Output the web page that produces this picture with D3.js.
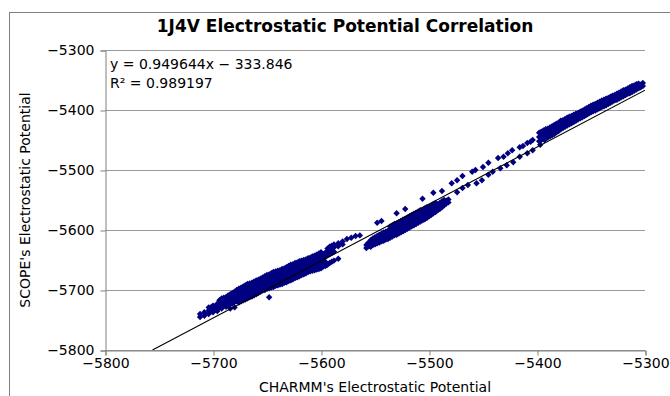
<!DOCTYPE html>
<html>
<head>
<meta charset="utf-8">
<script src="https://cdn.jsdelivr.net/npm/d3@7"></script>
<style>
  body { margin: 0; background: #fff; }
  svg { display: block; font-family: "DejaVu Sans", sans-serif; }
</style>
</head>
<body>
<div id="chart"></div>
<script>
// axis ticks
const xTicks = [-5800, -5700, -5600, -5500, -5400, -5300];
const yTicks = [-5800, -5700, -5600, -5500, -5400, -5300];

// linear fit shown in the chart
const fitSlope = 0.949644;
const fitIntercept = -333.846;
const fitLabel = "y = 0.949644x \u2212 333.846";
const r2Label = "R\u00b2 = 0.989197";

// lower-left dense cluster [CHARMM, SCOPE]
const clusterA = [
  [-5712,-5745],[-5712,-5740],[-5708,-5743],[-5708,-5737],
  [-5704,-5740],[-5704,-5734],[-5704,-5729],
  [-5700,-5737],[-5700,-5731],[-5700,-5726],
  [-5696,-5735],[-5696,-5729],[-5696,-5723],
  [-5692,-5731],[-5692,-5725],[-5692,-5719],[-5692,-5714],
  [-5688,-5728],[-5688,-5722],[-5688,-5716],[-5688,-5712],
  [-5684,-5731],[-5684,-5724],[-5684,-5718],[-5684,-5712],[-5684,-5707],
  [-5680,-5729],[-5680,-5720],[-5680,-5714],[-5680,-5708],[-5680,-5703],
  [-5676,-5721],[-5676,-5715],[-5676,-5709],[-5676,-5703],[-5676,-5698],
  [-5672,-5717],[-5672,-5711],[-5672,-5705],[-5672,-5699],[-5672,-5694],
  [-5668,-5714],[-5668,-5708],[-5668,-5702],[-5668,-5696],[-5668,-5690],
  [-5664,-5711],[-5664,-5705],[-5664,-5699],[-5664,-5693],[-5664,-5688],
  [-5660,-5707],[-5660,-5701],[-5660,-5695],[-5660,-5689],[-5660,-5684],
  [-5656,-5703],[-5656,-5698],[-5656,-5692],[-5656,-5686],[-5656,-5681],
  [-5652,-5700],[-5652,-5695],[-5652,-5689],[-5652,-5683],[-5652,-5677],
  [-5648,-5712],[-5648,-5697],[-5648,-5691],[-5648,-5685],[-5648,-5679],[-5648,-5674],
  [-5644,-5695],[-5644,-5688],[-5644,-5682],[-5644,-5676],[-5644,-5670],
  [-5640,-5692],[-5640,-5686],[-5640,-5680],[-5640,-5674],[-5640,-5668],
  [-5636,-5690],[-5636,-5684],[-5636,-5678],[-5636,-5672],[-5636,-5665],
  [-5632,-5687],[-5632,-5681],[-5632,-5675],[-5632,-5669],[-5632,-5662],
  [-5628,-5684],[-5628,-5678],[-5628,-5671],[-5628,-5664],[-5628,-5658],
  [-5624,-5680],[-5624,-5674],[-5624,-5667],[-5624,-5661],[-5624,-5655],
  [-5620,-5677],[-5620,-5671],[-5620,-5664],[-5620,-5658],[-5620,-5652],
  [-5616,-5674],[-5616,-5667],[-5616,-5661],[-5616,-5655],[-5616,-5650],
  [-5612,-5670],[-5612,-5664],[-5612,-5658],[-5612,-5652],[-5612,-5647],
  [-5608,-5668],[-5608,-5662],[-5608,-5655],[-5608,-5649],[-5608,-5644],
  [-5604,-5666],[-5604,-5659],[-5604,-5652],[-5604,-5646],[-5604,-5641],
  [-5600,-5664],[-5600,-5656],[-5600,-5648],[-5600,-5642],[-5600,-5637],
  [-5596,-5660],[-5596,-5653],[-5596,-5644],[-5596,-5638],
  [-5592,-5655],[-5592,-5640],[-5592,-5633],[-5592,-5628],
  [-5588,-5651],[-5588,-5636],[-5588,-5629],[-5588,-5624],
  [-5584,-5648],[-5584,-5627],[-5584,-5622],
  [-5580,-5624],[-5580,-5619],[-5576,-5615],[-5572,-5613],[-5568,-5610],[-5564,-5609],
  // in-between readings of the same cluster
  [-5702,-5735],[-5702,-5729],[-5698,-5733],[-5698,-5727],
  [-5694,-5729],[-5694,-5722],[-5694,-5717],
  [-5690,-5726],[-5690,-5719],[-5690,-5713],
  [-5686,-5726],[-5686,-5720],[-5686,-5714],[-5686,-5709],
  [-5682,-5722],[-5682,-5716],[-5682,-5710],[-5682,-5705],
  [-5678,-5719],[-5678,-5712],[-5678,-5706],[-5678,-5700],
  [-5674,-5719],[-5674,-5713],[-5674,-5707],[-5674,-5701],[-5674,-5696],
  [-5670,-5716],[-5670,-5709],[-5670,-5703],[-5670,-5698],[-5670,-5692],
  [-5666,-5712],[-5666,-5706],[-5666,-5700],[-5666,-5694],[-5666,-5689],
  [-5662,-5709],[-5662,-5703],[-5662,-5697],[-5662,-5691],[-5662,-5686],
  [-5658,-5705],[-5658,-5699],[-5658,-5693],[-5658,-5688],[-5658,-5683],
  [-5654,-5701],[-5654,-5696],[-5654,-5690],[-5654,-5684],[-5654,-5679],
  [-5650,-5698],[-5650,-5692],[-5650,-5686],[-5650,-5681],[-5650,-5675],
  [-5646,-5696],[-5646,-5690],[-5646,-5684],[-5646,-5678],[-5646,-5672],
  [-5642,-5693],[-5642,-5687],[-5642,-5681],[-5642,-5675],[-5642,-5669],
  [-5638,-5691],[-5638,-5685],[-5638,-5679],[-5638,-5673],[-5638,-5667],
  [-5634,-5688],[-5634,-5682],[-5634,-5676],[-5634,-5670],[-5634,-5664],
  [-5630,-5685],[-5630,-5679],[-5630,-5673],[-5630,-5667],[-5630,-5660],
  [-5626,-5682],[-5626,-5676],[-5626,-5669],[-5626,-5663],[-5626,-5657],
  [-5622,-5679],[-5622,-5672],[-5622,-5666],[-5622,-5660],[-5622,-5654],
  [-5618,-5675],[-5618,-5669],[-5618,-5663],[-5618,-5657],[-5618,-5651],
  [-5614,-5672],[-5614,-5666],[-5614,-5660],[-5614,-5654],[-5614,-5649],
  [-5610,-5669],[-5610,-5663],[-5610,-5657],[-5610,-5651],[-5610,-5646],
  [-5606,-5667],[-5606,-5660],[-5606,-5654],[-5606,-5648],[-5606,-5643],
  [-5602,-5665],[-5602,-5658],[-5602,-5650],[-5602,-5644],[-5602,-5639],
  [-5598,-5661],[-5598,-5654],[-5598,-5646],[-5598,-5640],
  [-5594,-5658],[-5594,-5642],[-5594,-5636],[-5594,-5631],
  [-5590,-5653],[-5590,-5638],[-5590,-5632],[-5590,-5626]
];

// middle dense band
const clusterB = [
  [-5558,-5630],[-5558,-5625],
  [-5554,-5628],[-5554,-5622],[-5554,-5617],
  [-5550,-5624],[-5550,-5618],[-5550,-5612],
  [-5546,-5621],[-5546,-5614],[-5546,-5608],
  [-5542,-5618],[-5542,-5611],[-5542,-5604],
  [-5538,-5615],[-5538,-5608],[-5538,-5601],
  [-5534,-5611],[-5534,-5604],[-5534,-5597],[-5534,-5592],
  [-5530,-5608],[-5530,-5601],[-5530,-5594],[-5530,-5589],
  [-5526,-5604],[-5526,-5597],[-5526,-5590],[-5526,-5585],
  [-5522,-5600],[-5522,-5593],[-5522,-5587],[-5522,-5581],
  [-5518,-5596],[-5518,-5589],[-5518,-5583],[-5518,-5577],
  [-5514,-5592],[-5514,-5585],[-5514,-5579],[-5514,-5573],
  [-5510,-5588],[-5510,-5581],[-5510,-5575],[-5510,-5569],
  [-5506,-5584],[-5506,-5577],[-5506,-5571],[-5506,-5566],
  [-5502,-5580],[-5502,-5573],[-5502,-5567],[-5502,-5562],
  [-5498,-5575],[-5498,-5569],[-5498,-5563],[-5498,-5559],
  [-5494,-5570],[-5494,-5564],[-5494,-5559],[-5494,-5555],
  [-5490,-5565],[-5490,-5560],[-5490,-5555],
  [-5486,-5559],[-5486,-5554],[-5486,-5550],
  [-5482,-5554],[-5482,-5549],
  [-5556,-5627],[-5556,-5621],
  [-5552,-5625],[-5552,-5619],[-5552,-5614],
  [-5548,-5622],[-5548,-5616],[-5548,-5610],
  [-5544,-5619],[-5544,-5612],[-5544,-5606],
  [-5540,-5616],[-5540,-5609],[-5540,-5603],
  [-5536,-5613],[-5536,-5606],[-5536,-5599],[-5536,-5594],
  [-5532,-5609],[-5532,-5602],[-5532,-5595],[-5532,-5590],
  [-5528,-5606],[-5528,-5599],[-5528,-5592],[-5528,-5587],
  [-5524,-5602],[-5524,-5595],[-5524,-5588],[-5524,-5583],
  [-5520,-5598],[-5520,-5591],[-5520,-5585],[-5520,-5579],
  [-5516,-5594],[-5516,-5587],[-5516,-5581],[-5516,-5575],
  [-5512,-5590],[-5512,-5583],[-5512,-5577],[-5512,-5571],
  [-5508,-5586],[-5508,-5579],[-5508,-5573],[-5508,-5567],
  [-5504,-5582],[-5504,-5575],[-5504,-5569],[-5504,-5564],
  [-5500,-5577],[-5500,-5571],[-5500,-5565],[-5500,-5561],
  [-5496,-5572],[-5496,-5566],[-5496,-5561],[-5496,-5557],
  [-5492,-5567],[-5492,-5562],[-5492,-5557],
  [-5488,-5562],[-5488,-5557],[-5488,-5552],
  [-5484,-5556],[-5484,-5551]
];

// sparse row above the fit line
const upperRow = [
  [-5548,-5588],[-5544,-5585],[-5530,-5572],[-5522,-5565],[-5506,-5548],
  [-5496,-5538],[-5488,-5535],[-5479,-5522],[-5474,-5517],[-5469,-5510],
  [-5460,-5503],[-5457,-5500],[-5450,-5495],[-5445,-5488],[-5436,-5480],
  [-5431,-5478],[-5427,-5472],[-5423,-5467],[-5416,-5462],[-5413,-5460],
  [-5409,-5455],[-5406,-5453],[-5404,-5450],[-5394,-5442],[-5390,-5437],
  [-5388,-5437]
];

// sparse row below the fit line
const lowerRow = [
  [-5474,-5537],[-5469,-5530],[-5464,-5525],[-5456,-5522],[-5451,-5517],
  [-5445,-5508],[-5441,-5503],[-5434,-5497],[-5428,-5492],[-5422,-5487],
  [-5416,-5478],[-5409,-5472],[-5404,-5467],[-5397,-5458],[-5393,-5450]
];

// upper-right band
const clusterD = [
  [-5398,-5452],[-5398,-5445],[-5398,-5438],
  [-5394,-5448],[-5394,-5441],[-5394,-5434],
  [-5390,-5446],[-5390,-5438],[-5390,-5431],
  [-5386,-5442],[-5386,-5434],[-5386,-5427],
  [-5382,-5437],[-5382,-5430],[-5382,-5423],
  [-5378,-5432],[-5378,-5425],[-5378,-5418],
  [-5374,-5428],[-5374,-5421],[-5374,-5415],
  [-5370,-5424],[-5370,-5417],[-5370,-5411],
  [-5366,-5420],[-5366,-5413],[-5366,-5408],
  [-5362,-5416],[-5362,-5410],[-5362,-5405],
  [-5358,-5412],[-5358,-5406],[-5358,-5401],
  [-5354,-5408],[-5354,-5402],[-5354,-5397],
  [-5350,-5404],[-5350,-5398],[-5350,-5393],
  [-5346,-5401],[-5346,-5395],[-5346,-5390],
  [-5342,-5397],[-5342,-5391],[-5342,-5386],
  [-5338,-5394],[-5338,-5388],[-5338,-5383],
  [-5334,-5390],[-5334,-5384],[-5334,-5380],
  [-5330,-5386],[-5330,-5381],[-5330,-5376],
  [-5326,-5383],[-5326,-5377],[-5326,-5373],
  [-5322,-5379],[-5322,-5374],[-5322,-5369],
  [-5318,-5375],[-5318,-5370],[-5318,-5366],
  [-5314,-5372],[-5314,-5367],[-5314,-5362],
  [-5310,-5368],[-5310,-5363],[-5310,-5359],
  [-5306,-5364],[-5306,-5360],[-5306,-5356],
  [-5302,-5360],[-5302,-5355],
  [-5396,-5450],[-5396,-5443],[-5396,-5436],
  [-5392,-5447],[-5392,-5440],[-5392,-5432],
  [-5388,-5444],[-5388,-5436],[-5388,-5429],
  [-5384,-5440],[-5384,-5432],[-5384,-5425],
  [-5380,-5435],[-5380,-5428],[-5380,-5421],
  [-5376,-5430],[-5376,-5423],[-5376,-5417],
  [-5372,-5426],[-5372,-5419],[-5372,-5413],
  [-5368,-5422],[-5368,-5415],[-5368,-5410],
  [-5364,-5418],[-5364,-5411],[-5364,-5406],
  [-5360,-5414],[-5360,-5408],[-5360,-5403],
  [-5356,-5410],[-5356,-5404],[-5356,-5399],
  [-5352,-5406],[-5352,-5400],[-5352,-5395],
  [-5348,-5402],[-5348,-5396],[-5348,-5391],
  [-5344,-5399],[-5344,-5393],[-5344,-5388],
  [-5340,-5395],[-5340,-5389],[-5340,-5384],
  [-5336,-5392],[-5336,-5386],[-5336,-5381],
  [-5332,-5388],[-5332,-5382],[-5332,-5378],
  [-5328,-5384],[-5328,-5379],[-5328,-5375],
  [-5324,-5381],[-5324,-5375],[-5324,-5371],
  [-5320,-5377],[-5320,-5372],[-5320,-5367],
  [-5316,-5373],[-5316,-5368],[-5316,-5364],
  [-5312,-5370],[-5312,-5365],[-5312,-5360],
  [-5308,-5366],[-5308,-5361],[-5308,-5357],
  [-5304,-5362],[-5304,-5358]
];

const width = 670, height = 396;
const plot = { left: 105, right: 645, top: 50, bottom: 350 };
const markerColor = "#000080";
const gridColor = "#999999";

const svg = d3.select("#chart").append("svg")
  .attr("width", width)
  .attr("height", height);

// outer chart frame (runs off the right and bottom edges)
svg.append("rect")
  .attr("x", 9.5).attr("y", 12.5)
  .attr("width", 700).attr("height", 400)
  .attr("fill", "none")
  .attr("stroke", "#808080");

const x = d3.scaleLinear().domain([-5800, -5300]).range([plot.left, plot.right]);
const y = d3.scaleLinear().domain([-5800, -5300]).range([plot.bottom, plot.top]);

// horizontal gridlines
svg.append("g")
  .selectAll("line")
  .data(yTicks)
  .join("line")
  .attr("x1", plot.left).attr("x2", plot.right)
  .attr("y1", d => Math.round(y(d)) + 0.5)
  .attr("y2", d => Math.round(y(d)) + 0.5)
  .attr("stroke", gridColor);

const fmt = d3.format("d");

const yAxis = svg.append("g")
  .attr("transform", `translate(${plot.left + 0.5},0.5)`)
  .call(d3.axisLeft(y).tickValues(yTicks).tickSize(5).tickPadding(6).tickFormat(fmt));

const xAxis = svg.append("g")
  .attr("transform", `translate(0.5,${plot.bottom + 0.5})`)
  .call(d3.axisBottom(x).tickValues(xTicks).tickSize(5).tickPadding(3).tickFormat(fmt));

[yAxis, xAxis].forEach(ax => {
  ax.select(".domain").attr("stroke", "#808080");
  ax.selectAll(".tick line").attr("stroke", "#808080");
  ax.selectAll("text")
    .attr("fill", "#000")
    .style("font-size", "14px")
    .style("font-family", "DejaVu Sans, sans-serif");
});

// clip region for marks
svg.append("clipPath").attr("id", "plotClip")
  .append("rect")
  .attr("x", plot.left).attr("y", plot.top)
  .attr("width", plot.right - plot.left).attr("height", plot.bottom - plot.top);

const points = [].concat(clusterA, clusterB, upperRow, lowerRow, clusterD);

const diamond = "M0,-3.2L3.2,0L0,3.2L-3.2,0Z";

svg.append("g")
  .selectAll("path")
  .data(points)
  .join("path")
  .attr("d", diamond)
  .attr("transform", d => `translate(${x(d[0])},${y(d[1])})`)
  .attr("fill", markerColor);

// trend line
const fitX0 = (-5800 - fitIntercept) / fitSlope;
const fitX1 = -5300;
svg.append("line")
  .attr("clip-path", "url(#plotClip)")
  .attr("x1", x(fitX0)).attr("y1", y(fitSlope * fitX0 + fitIntercept))
  .attr("x2", x(fitX1)).attr("y2", y(fitSlope * fitX1 + fitIntercept))
  .attr("stroke", "#000")
  .attr("stroke-width", 1.1);

// title
svg.append("text")
  .attr("x", 345).attr("y", 32)
  .attr("text-anchor", "middle")
  .style("font-size", "17px")
  .style("font-weight", "bold")
  .text("1J4V Electrostatic Potential Correlation");

// equation
svg.append("text")
  .attr("x", 110).attr("y", 69)
  .style("font-size", "14px")
  .text(fitLabel);
svg.append("text")
  .attr("x", 110).attr("y", 88)
  .style("font-size", "14px")
  .text(r2Label);

// axis titles
svg.append("text")
  .attr("x", 375).attr("y", 392)
  .attr("text-anchor", "middle")
  .style("font-size", "14px")
  .text("CHARMM's Electrostatic Potential");

svg.append("text")
  .attr("transform", "translate(30,200) rotate(-90)")
  .attr("text-anchor", "middle")
  .style("font-size", "14px")
  .text("SCOPE's Electrostatic Potential");
</script>
</body>
</html>
